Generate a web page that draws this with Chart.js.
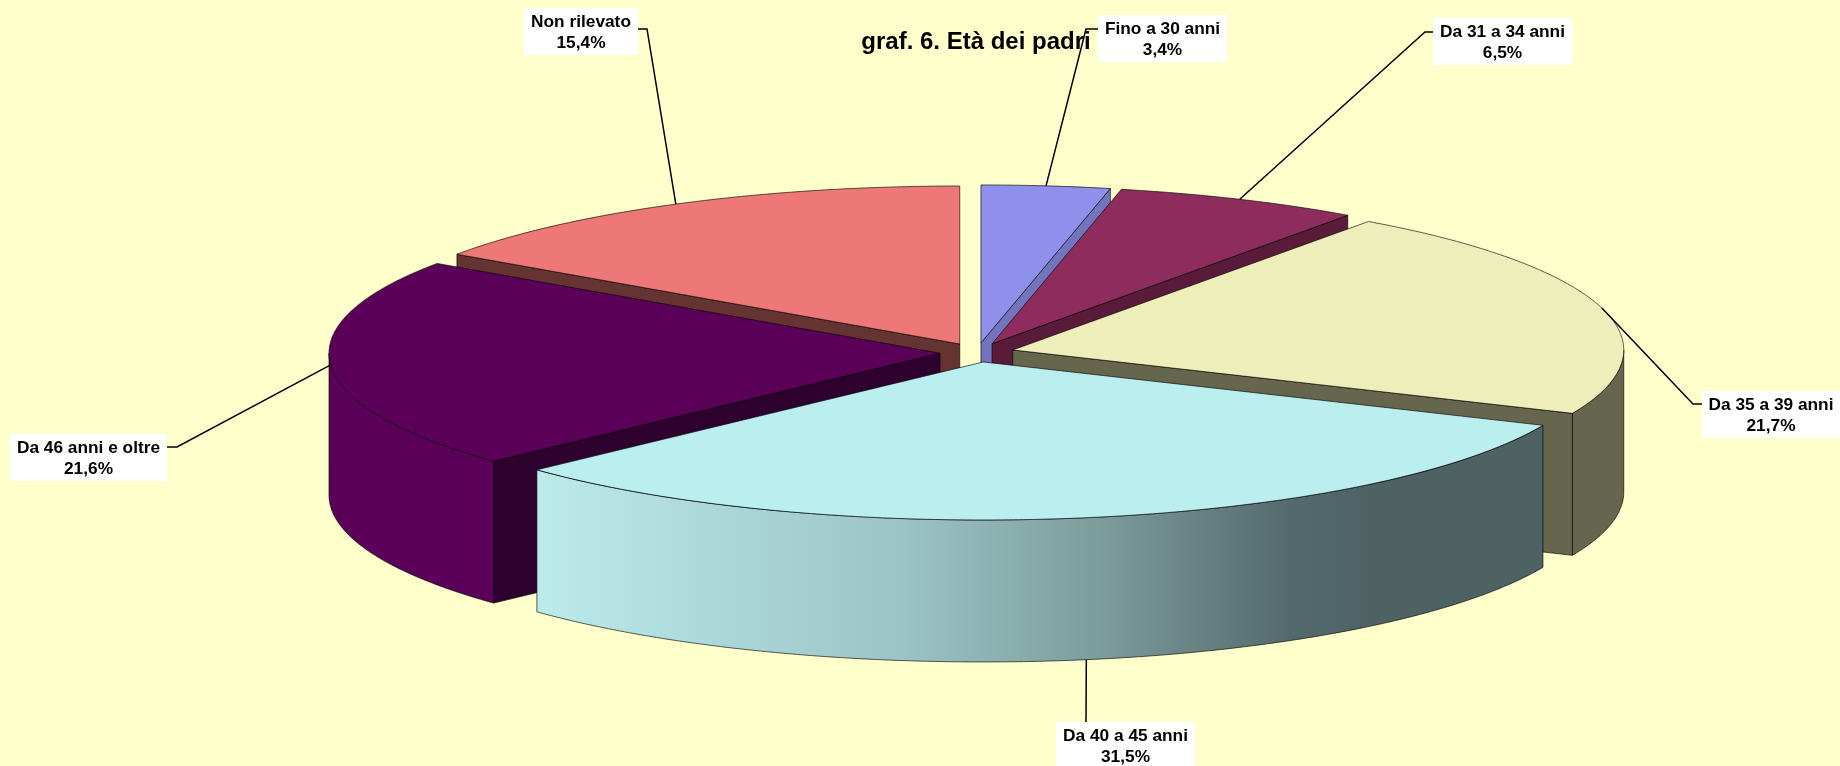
<!DOCTYPE html>
<html>
<head>
<meta charset="utf-8">
<style>html,body{margin:0;padding:0;background:#FFFFCC;overflow:hidden}canvas{display:block}</style>
<script src="https://cdn.jsdelivr.net/npm/chart.js@4"></script>
</head>
<body>
<canvas id="c" width="1840" height="766"></canvas>
<script>
const titleText = 'graf. 6. Età dei padri';
const categories = ['Fino a 30 anni','Da 31 a 34 anni','Da 35 a 39 anni','Da 40 a 45 anni','Da 46 anni e oltre','Non rilevato'];
const shares = [3.4, 6.5, 21.7, 31.5, 21.6, 15.4];

const topColors = ['#8F8FEC','#8E2D5D','#EEEEBB','#BBEEEE','#5B0059','#EE7777'];
const wallColors = ['#7474BE','#5A1B3A','#66664F','#BBEEEE','#5B0059','#663333'];
const innerWallColors = ['#7474BE','#5A1B3A','#66664F','#4F6466','#2E002D','#663333'];

// 3D projection of the pie (layout, not data)
const pieView = {cx:977, cy:352.5, rx:611, ry:158, depth:142, explode:0.0607};
// label layout: box left / top / width, elbow of the leader
const boxLeft  = [1098, 1433, 1702, 1056, 10, 524];
const boxTop   = [15, 18, 391, 722, 434, 8];
const boxWidth = [129, 139, 138, 139, 157, 114];
const elbowX   = [1086, 1425, 1693, 1086, 177, 647];
const elbowY   = [29, 32, 404, 722, 447, 29];
const endX     = [1098, 1433, 1702, 1086, 167, 638];
const endY     = [29, 32, 404, 722, 447, 29];

const edgeColor = 'rgba(0,0,0,0.7)';

const pie3d = {
  id:'pie3d',
  beforeDraw(chart){
    const c = chart.ctx;
    c.save(); c.fillStyle='#FFFFCC'; c.fillRect(0,0,chart.width,chart.height); c.restore();
  },
  beforeDatasetsDraw(chart){
    const c = chart.ctx, v = pieView;
    const arcs = chart.getDatasetMeta(0).data;
    const info = arcs.map((arc,i)=>{
      const mid = (arc.startAngle+arc.endAngle)/2;
      const ax = v.cx + Math.cos(mid)*v.explode*v.rx;
      const ay = v.cy + Math.sin(mid)*v.explode*v.ry;
      const P = (t,dy=0)=>[ax+Math.cos(t)*v.rx, ay+Math.sin(t)*v.ry+dy];
      return {arc,i,mid,ax,ay,P};
    });
    const poly = (pts)=>{ c.beginPath(); pts.forEach((p,k)=>k?c.lineTo(p[0],p[1]):c.moveTo(p[0],p[1])); c.closePath(); };
    const sample = (a,b)=>{ const n=Math.max(2,Math.ceil(Math.abs(b-a)/0.008)); const o=[]; for(let k=0;k<=n;k++) o.push(a+(b-a)*k/n); return o; };

    c.save(); c.lineWidth=0.9; c.lineJoin='round'; c.strokeStyle=edgeColor;
    // walls, back to front
    [...info].sort((p,q)=>Math.sin(p.mid)-Math.sin(q.mid)).forEach(s=>{
      const {arc,i,ax,ay,P}=s, d=v.depth;
      const sA=arc.startAngle, eA=arc.endAngle;
      const radial=(t)=>{
        const e=P(t);
        poly([[ax,ay],e,[e[0],e[1]+d],[ax,ay+d]]);
        c.fillStyle=innerWallColors[i]; c.fill(); c.stroke();
      };
      if(-Math.cos(sA)>1e-6) radial(sA);
      if(Math.cos(eA)>1e-6) radial(eA);
      const lo=Math.max(sA,0), hi=Math.min(eA,Math.PI);
      if(hi>lo){
        const ts=sample(lo,hi);
        const pts=ts.map(t=>P(t)).concat(ts.slice().reverse().map(t=>P(t,d)));
        poly(pts);
        if(i===3){
          const x0=P(eA)[0], x1=P(sA)[0];
          const g=c.createLinearGradient(x0,0,x1,0);
          g.addColorStop(0,'#BCEBEB');
          g.addColorStop(0.36,'#9CC4C6');
          g.addColorStop(0.56,'#7D9C9C');
          g.addColorStop(0.75,'#536A6C');
          g.addColorStop(0.83,'#4E6264');
          g.addColorStop(1,'#4E6264');
          c.fillStyle=g;
        } else c.fillStyle=wallColors[i];
        c.fill(); c.stroke();
      }
    });
    // tops drawn by the library, squashed to the view
    info.forEach(s=>{
      const {arc,mid}=s, R=arc.outerRadius;
      c.save();
      c.translate(v.cx,v.cy);
      c.scale(v.rx/R,v.ry/R);
      c.translate(Math.cos(mid)*v.explode*R,Math.sin(mid)*v.explode*R);
      c.translate(-arc.x,-arc.y);
      arc.draw(c);
      c.restore();
      const ts=sample(arc.startAngle,arc.endAngle);
      poly([[s.ax,s.ay]].concat(ts.map(t=>s.P(t))));
      c.stroke();
    });
    // leaders and labels
    c.strokeStyle='#000'; c.lineWidth=1.5; c.lineJoin='miter';
    info.forEach(s=>{
      const i=s.i, a=s.P(s.mid,i===3?v.depth:0);
      c.beginPath(); c.moveTo(a[0],a[1]); c.lineTo(elbowX[i],elbowY[i]); c.lineTo(endX[i],endY[i]); c.stroke();
    });
    c.textAlign='center'; c.textBaseline='middle';
    c.font='bold 17.3px "Liberation Sans", Arial, sans-serif';
    info.forEach(s=>{
      const i=s.i, l=boxLeft[i], t=boxTop[i], w=boxWidth[i];
      c.fillStyle='#FFFFFF'; c.fillRect(l,t,w,47);
      c.fillStyle='#000';
      c.fillText(categories[i],l+w/2,t+14);
      c.fillText(shares[i].toFixed(1).replace('.',',')+'%',l+w/2,t+35);
    });
    c.restore();
    return false;
  }
};

new Chart(document.getElementById('c'),{
  type:'pie',
  data:{labels:categories,datasets:[{data:shares,backgroundColor:topColors,borderWidth:0}]},
  options:{
    responsive:false,animation:false,
    layout:{padding:{left:112}},
    plugins:{
      legend:{display:false},
      tooltip:{enabled:false},
      title:{display:true,text:titleText,color:'#000',
        font:{family:'"Liberation Sans", Arial, sans-serif',size:24,weight:'bold'},
        padding:{top:28,bottom:10}}
    }
  },
  plugins:[pie3d]
});
</script>
</body>
</html>
